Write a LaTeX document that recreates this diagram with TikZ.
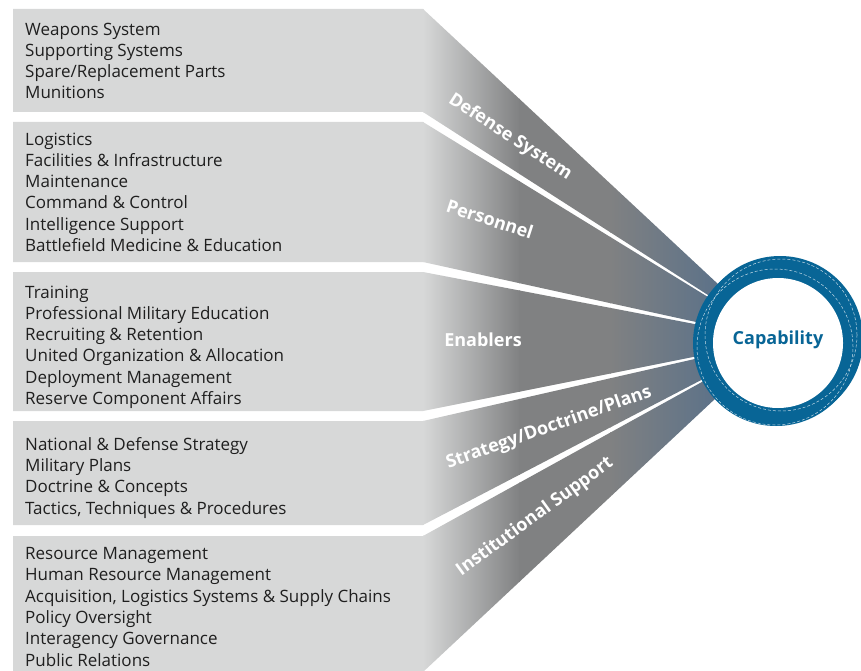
\documentclass[tikz,border=0pt]{standalone}
\usepackage{fontspec}
\setmainfont{Open Sans}
\definecolor{bandlight}{RGB}{215,216,216}
\definecolor{bandgray}{RGB}{128,129,130}
\definecolor{bandsteel}{RGB}{72,105,140}
\definecolor{capblue}{RGB}{8,101,150}
\tikzset{
  itemlist/.style={anchor=base west, inner sep=0pt, align=left,
    font=\fontsize{17}{21.3}\selectfont, text=black!88},
  wedgelabel/.style={font=\fontsize{18}{20}\selectfont\bfseries, text=white, inner sep=0pt},
  ringdash/.style={white!75!capblue, line width=0.5pt, dash pattern=on 3pt off 2pt},
}
\begin{document}
\begin{tikzpicture}[x=1pt,y=-1pt]
\useasboundingbox (0,0) rectangle (861,671);
\coordinate (apex) at (778,340);
\def\bandone{(13,9) -- (423,9) -- (apex) -- (423,112) -- (13,112) -- cycle}
\def\bandtwo{(13,122) -- (423,122) -- (apex) -- (423,262) -- (13,262) -- cycle}
\def\bandthree{(13,272) -- (423,272) -- (apex) -- (423,411) -- (13,411) -- cycle}
\def\bandfour{(13,421) -- (423,421) -- (apex) -- (423,525) -- (13,525) -- cycle}
\def\bandfive{(13,536) -- (423,536) -- (apex) -- (423,672) -- (13,672) -- cycle}

\begin{scope}% the five bands, shaded left to right
\clip \bandone \bandtwo \bandthree \bandfour \bandfive;
\fill[bandlight] (13,0) rectangle (424,672);
\shade[left color=bandlight, right color=bandgray] (423,0) rectangle (520,672);
\fill[bandgray] (519,0) rectangle (611,672);
\shade[left color=bandgray, right color=bandsteel] (610,0) rectangle (778,672);
\end{scope}

% capability ring
\fill[capblue] (780,339) circle[radius=83pt];
\fill[capblue] (776,343) circle[radius=83pt];
\fill[white] (778,343) circle[radius=65pt];
\draw[ringdash] (775,347) circle[radius=78pt];
\draw[ringdash] (781,335) circle[radius=76pt];
\node[font=\fontsize{18}{20}\selectfont\bfseries, text=capblue] (capability) at (778,340) {Capability};

% lists, placed at the baseline of their last line
\node[itemlist] (defitems) at (25,99) {Weapons System\\Supporting Systems\\Spare/Replacement Parts\\Munitions};
\node[itemlist] (peritems) at (25,251.5) {Logistics\\Facilities \& Infrastructure\\Maintenance\\Command \& Control\\Intelligence Support\\Battlefield Medicine \& Education};
\node[itemlist] (enaitems) at (25,404.5) {Training\\Professional Military Education\\Recruiting \& Retention\\United Organization \& Allocation\\Deployment Management\\Reserve Component Affairs};
\node[itemlist] (strititems) at (25,514) {National \& Defense Strategy\\Military Plans\\Doctrine \& Concepts\\Tactics, Techniques \& Procedures};
\node[itemlist] (insitems) at (25,666) {Resource Management\\Human Resource Management\\Acquisition, Logistics Systems \& Supply Chains\\Policy Oversight\\Interagency Governance\\Public Relations};

\node[wedgelabel, rotate=-33] (defense) at (510,137) {Defense System};
\node[wedgelabel, rotate=-18] (personnel) at (490,219) {Personnel};
\node[wedgelabel] (enablers) at (483,340) {Enablers};
\node[wedgelabel, rotate=19.5] (strategy) at (549,428) {Strategy/Doctrine/Plans};
\node[wedgelabel, rotate=36] (institutional) at (535,517) {Institutional Support};
\end{tikzpicture}
\end{document}
